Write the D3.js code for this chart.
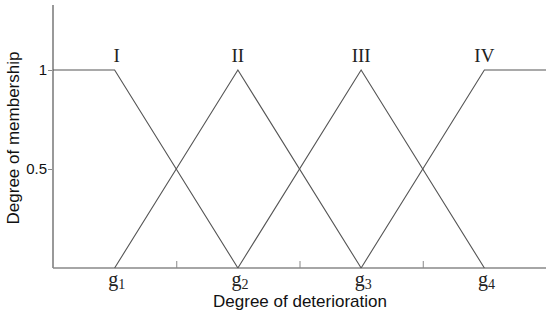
<!DOCTYPE html>
<html>
<head>
<meta charset="utf-8">
<script src="https://cdn.jsdelivr.net/npm/d3@7"></script>
<style>
  body { margin: 0; background: #fff; }
</style>
</head>
<body>
<div id="chart"></div>
<script>
// Membership function data
var gradeNames = ["I", "II", "III", "IV"];
var gradeCenters = [1, 2, 3, 4];
var gradeSubs = ["1", "2", "3", "4"];
var seriesI = [[0.5, 1], [1, 1], [2, 0]];
var seriesII = [[1, 0], [2, 1], [3, 0]];
var seriesIII = [[2, 0], [3, 1], [4, 0]];
var seriesIV = [[3, 0], [4, 1], [4.5, 1]];
var yTicks = [0.5, 1];
var midTicks = [1.5, 2.5, 3.5];

var svgWidth = 550;
var svgHeight = 317;

var svg = d3.select("#chart")
  .append("svg")
  .attr("width", svgWidth)
  .attr("height", svgHeight);

// scales
var x = d3.scaleLinear().domain([0.5, 4.5]).range([53, 546]);
var y = d3.scaleLinear().domain([0, 1]).range([268, 70]);

// y axis
var yAxis = d3.axisLeft(y).tickValues(yTicks).tickSize(5)
  .tickFormat(d => d === 1 ? "1" : "0.5");
var gy = svg.append("g").attr("transform", "translate(53,0)").call(yAxis);
gy.select(".domain").remove();
gy.selectAll("line").attr("stroke", "#888");
gy.selectAll("text")
  .attr("font-family", "Liberation Sans, Arial, sans-serif")
  .attr("font-size", 15).attr("fill", "#111").attr("x", -6);
svg.append("line")
  .attr("x1", 53).attr("x2", 53).attr("y1", 5).attr("y2", y(0))
  .attr("stroke", "#999").attr("stroke-width", 2);

// x axis with inner ticks at midpoints
var xAxis = d3.axisTop(x).tickValues(midTicks).tickSize(7).tickFormat("");
var gx = svg.append("g").attr("transform", `translate(0,${y(0)})`).call(xAxis);
gx.select(".domain").remove();
gx.selectAll("line").attr("stroke", "#888");
svg.append("line")
  .attr("x1", 53).attr("x2", 546).attr("y1", y(0)).attr("y2", y(0))
  .attr("stroke", "#888").attr("stroke-width", 1.5);

// membership lines
var line = d3.line().x(d => x(d[0])).y(d => y(d[1]));
[seriesI, seriesII, seriesIII, seriesIV].forEach(function(s) {
  svg.append("path")
    .attr("d", line(s))
    .attr("fill", "none")
    .attr("stroke", "#555")
    .attr("stroke-width", 1.1);
});

// grade labels I..IV
svg.selectAll("text.grade")
  .data(gradeNames)
  .enter()
  .append("text")
  .attr("class", "grade")
  .attr("x", (d, i) => x(gradeCenters[i]) + (i === 0 ? 2 : 0))
  .attr("y", 62)
  .attr("text-anchor", "middle")
  .attr("font-family", "Liberation Serif, Times New Roman, serif")
  .attr("font-size", 19)
  .attr("fill", "#222")
  .text(d => d);

// g labels with subscripts
var gl = svg.selectAll("text.glab")
  .data(gradeSubs)
  .enter()
  .append("text")
  .attr("class", "glab")
  .attr("x", (d, i) => x(gradeCenters[i]) + 2)
  .attr("y", 286)
  .attr("text-anchor", "middle")
  .attr("font-family", "Liberation Serif, Times New Roman, serif")
  .attr("font-size", 20)
  .attr("fill", "#222");
gl.append("tspan").text("g");
gl.append("tspan").attr("font-size", 14).attr("dy", 3).text(d => d);

// axis titles
svg.append("text")
  .attr("x", 300).attr("y", 307)
  .attr("text-anchor", "middle")
  .attr("font-family", "Liberation Sans, Arial, sans-serif")
  .attr("font-size", 17).attr("fill", "#111")
  .text("Degree of deterioration");

svg.append("text")
  .attr("transform", "translate(19,138) rotate(-90)")
  .attr("text-anchor", "middle")
  .attr("font-family", "Liberation Sans, Arial, sans-serif")
  .attr("font-size", 17).attr("fill", "#111")
  .text("Degree of membership");
</script>
</body>
</html>
